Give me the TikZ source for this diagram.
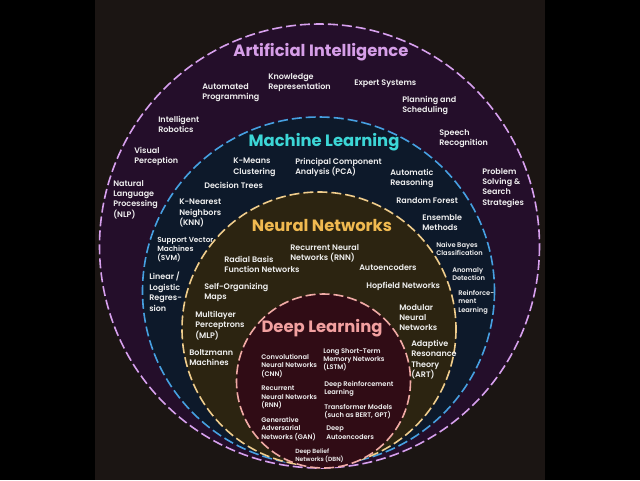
\documentclass[tikz,border=0pt]{standalone}
\usepackage{fontspec}
\setmainfont{Poppins}
\newfontfamily\lblfont{Poppins SemiBold}
\usepackage{tikz}
\usepackage{xcolor}
\definecolor{panelbg}{RGB}{27, 21, 19}
\definecolor{aifill}{RGB}{36, 14, 42}
\definecolor{ailine}{RGB}{215, 160, 238}
\definecolor{aititle}{RGB}{214, 158, 232}
\definecolor{mlfill}{RGB}{13, 25, 42}
\definecolor{mlline}{RGB}{70, 160, 225}
\definecolor{mltitle}{RGB}{60, 214, 214}
\definecolor{nnfill}{RGB}{44, 36, 17}
\definecolor{nnline}{RGB}{240, 205, 140}
\definecolor{nntitle}{RGB}{240, 185, 80}
\definecolor{dlfill}{RGB}{48, 12, 21}
\definecolor{dlline}{RGB}{240, 170, 165}
\definecolor{dltitle}{RGB}{242, 160, 160}
\definecolor{lbltext}{RGB}{240, 240, 240}

\begin{document}
\begin{tikzpicture}[x=0.75pt, y=-0.75pt,
    ring/.style={line width=1.2pt, dash pattern=on 7.5pt off 3pt},
    ringtitle/.style={font=\bfseries\fontsize{12.3}{14}\selectfont, inner sep=0pt},
    lbl/.style={text=lbltext, font=\lblfont\fontsize{6}{7.8}\selectfont, align=left,
                anchor=north west, inner sep=0pt},
    smalllbl/.style={lbl, font=\lblfont\fontsize{5}{6.2}\selectfont},
    tinylbl/.style={lbl, font=\lblfont\fontsize{4.5}{5.5}\selectfont}]
  \useasboundingbox (0,0) rectangle (640,480);
  \fill[black] (0,0) rectangle (640,480);
  \fill[panelbg] (95,0) rectangle (545,480);

  % rings
  \draw[ring, ailine, fill=aifill] (319.5,246) ellipse [x radius=220, y radius=222];
  \draw[ring, mlline, fill=mlfill] (318.5,291) ellipse [x radius=176, y radius=174];
  \draw[ring, nnline, fill=nnfill] (319,329) ellipse [x radius=137, y radius=137];
  \draw[ring, dlline, fill=dlfill] (323.5,381) ellipse [x radius=87, y radius=87];

  % Artificial Intelligence
  \node[ringtitle, text=aititle] (aititle) at (321,52) {Artificial Intelligence};
  \node[lbl] (autoprog) at (202,83) {Automated\\Programming};
  \node[lbl] (knowrep) at (268,73) {Knowledge\\Representation};
  \node[lbl] (expert) at (354,80) {Expert Systems};
  \node[lbl] (planning) at (402,96) {Planning and\\Scheduling};
  \node[lbl] (robotics) at (158,116) {Intelligent\\Robotics};
  \node[lbl] (speech) at (439,129) {Speech\\Recognition};
  \node[lbl] (visual) at (134,147) {Visual\\Perception};
  \node[lbl] (problem) at (482,168) {Problem\\Solving \&\\Search\\Strategies};
  \node[lbl] (nlp) at (113,180) {Natural\\Language\\Processing\\(NLP)};

  % Machine Learning
  \node[ringtitle, text=mltitle] (mltitle) at (324,142) {Machine Learning};
  \node[lbl] (kmeans) at (233,158) {K-Means\\Clustering};
  \node[lbl] (pca) at (295,158) {Principal Component\\Analysis (PCA)};
  \node[lbl] (reasoning) at (390,169) {Automatic\\Reasoning};
  \node[lbl] (dtrees) at (204,182) {Decision Trees};
  \node[lbl] (forest) at (396,197) {Random Forest};
  \node[lbl] (knn) at (179,199) {K-Nearest\\Neighbors\\(KNN)};
  \node[lbl] (ensemble) at (422,214) {Ensemble\\Methods};
  \node[lbl, font=\lblfont\fontsize{5.5}{6.9}\selectfont] (svm) at (157,237) {Support Vector\\Machines\\(SVM)};
  \node[smalllbl] (bayes) at (436,242) {Naive Bayes\\Classification};
  \node[smalllbl] (anomaly) at (452,267) {Anomaly\\Detection};
  \node[lbl] (linreg) at (149,272) {Linear /\\Logistic\\Regres-\\sion};
  \node[smalllbl] (reinf) at (458,290) {Reinforce-\\ment\\Learning};

  % Neural Networks
  \node[ringtitle, text=nntitle] (nntitle) at (322,225) {Neural Networks};
  \node[lbl] (rnnnn) at (290,244) {Recurrent Neural\\Networks (RNN)};
  \node[lbl] (rbf) at (224,256) {Radial Basis\\Function Networks};
  \node[lbl] (autoenc) at (359,264) {Autoencoders};
  \node[lbl] (hopfield) at (366,282) {Hopfield Networks};
  \node[lbl] (som) at (204,283) {Self-Organizing\\Maps};
  \node[lbl] (modular) at (399,304) {Modular\\Neural\\Networks};
  \node[lbl] (mlp) at (195,311) {Multilayer\\Perceptrons\\(MLP)};
  \node[lbl] (art) at (411,340) {Adaptive\\Resonance\\Theory\\(ART)};
  \node[lbl] (boltz) at (189,349) {Boltzmann\\Machines};

  % Deep Learning
  \node[ringtitle, text=dltitle] (dltitle) at (322,328) {Deep Learning};
  \node[smalllbl] (cnn) at (261,354) {Convolutional\\Neural Networks\\(CNN)};
  \node[smalllbl] (lstm) at (323,348) {Long Short-Term\\Memory Networks\\(LSTM)};
  \node[smalllbl] (rnndl) at (261,386) {Recurrent\\Neural Networks\\(RNN)};
  \node[smalllbl] (drl) at (324,381) {Deep Reinforcement\\Learning};
  \node[smalllbl] (transf) at (324,404) {Transformer Models\\(such as BERT, GPT)};
  \node[smalllbl] (gan) at (261,417) {Generative\\Adversarial\\Networks (GAN)};
  \node[smalllbl] (deepae) at (326,426) {Deep\\Autoencoders};
  \node[tinylbl] (dbn) at (295,449) {Deep Belief\\Networks (DBN)};
\end{tikzpicture}
\end{document}
